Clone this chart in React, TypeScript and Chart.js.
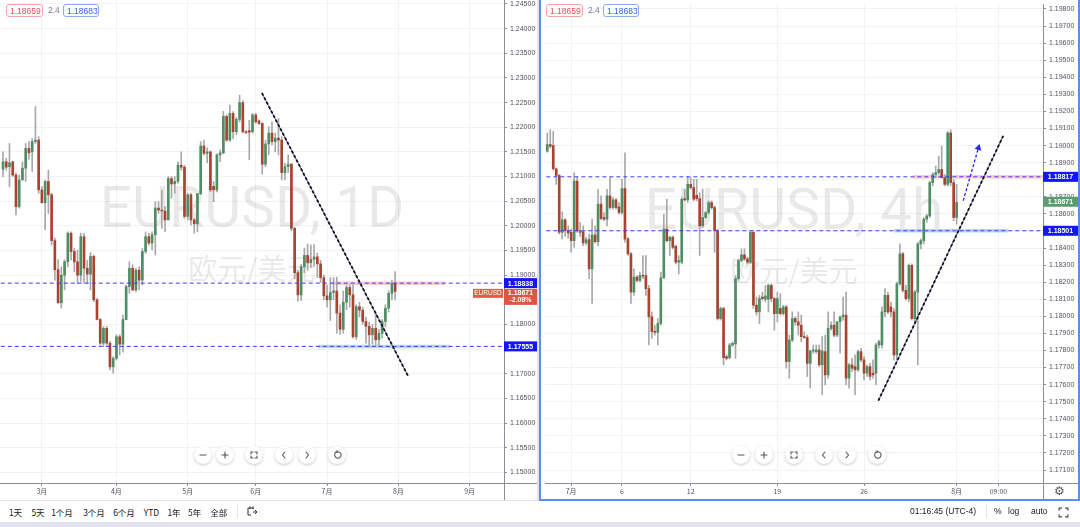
import React, { useEffect, useRef } from 'react';
import { Chart, registerables } from 'chart.js';

Chart.register(...registerables);

// ---------------- Daily EURUSD (left) ----------------
const D_OPEN = [
  1.2115, 1.2130, 1.2120, 1.2130, 1.2103, 1.2039, 1.2093, 1.2117, 1.2157, 1.2150,
  1.2171, 1.2174, 1.2073, 1.2047, 1.2090, 1.2063, 1.1970, 1.1911, 1.1844, 1.1900,
  1.1927, 1.1985, 1.1948, 1.1927, 1.1900, 1.1978, 1.1914, 1.1902, 1.1938, 1.1850,
  1.1810, 1.1762, 1.1792, 1.1762, 1.1714, 1.1731, 1.1775, 1.1760, 1.1810, 1.1877,
  1.1914, 1.1870, 1.1910, 1.1890, 1.1948, 1.1978, 1.1965, 1.1982, 1.2036, 1.2032,
  1.2030, 1.2012, 1.2096, 1.2085, 1.2090, 1.2123, 1.2119, 1.2019, 1.2063, 1.2012,
  1.2004, 1.2065, 1.2162, 1.2147, 1.2150, 1.2080, 1.2073, 1.2144, 1.2148, 1.2222,
  1.2174, 1.2228, 1.2191, 1.2216, 1.2250, 1.2191, 1.2193, 1.2191, 1.2225, 1.2213,
  1.2208, 1.2125, 1.2166, 1.2188, 1.2171, 1.2178, 1.2174, 1.2108, 1.2120, 1.2125,
  1.1995, 1.1905, 1.1860, 1.1917, 1.1940, 1.1925, 1.1932, 1.1937, 1.1923, 1.1895,
  1.1858, 1.1850, 1.1865, 1.1868, 1.1823, 1.1790, 1.1845, 1.1875, 1.1860, 1.1775,
  1.1836, 1.1829, 1.1806, 1.1796, 1.1779, 1.1792, 1.1769, 1.1782, 1.1806, 1.1833,
  1.1863, 1.1883,
];
const D_HIGH = [
  1.2150, 1.2137, 1.2167, 1.2131, 1.2107, 1.2103, 1.2130, 1.2167, 1.2171, 1.2177,
  1.2242, 1.2181, 1.2080, 1.2093, 1.2113, 1.2066, 1.1975, 1.1931, 1.1917, 1.1931,
  1.1988, 1.1988, 1.1954, 1.1951, 1.1985, 1.1985, 1.1930, 1.1946, 1.1941, 1.1853,
  1.1812, 1.1796, 1.1796, 1.1765, 1.1735, 1.1779, 1.1779, 1.1819, 1.1880, 1.1927,
  1.1921, 1.1914, 1.1917, 1.1954, 1.1988, 1.1985, 1.1988, 1.2049, 1.2049, 1.2073,
  1.2039, 1.2100, 1.2100, 1.2100, 1.2130, 1.2150, 1.2123, 1.2066, 1.2066, 1.2015,
  1.2066, 1.2171, 1.2174, 1.2158, 1.2152, 1.2090, 1.2146, 1.2154, 1.2232, 1.2225,
  1.2245, 1.2232, 1.2220, 1.2265, 1.2254, 1.2193, 1.2214, 1.2228, 1.2228, 1.2215,
  1.2209, 1.2174, 1.2201, 1.2211, 1.2188, 1.2218, 1.2181, 1.2127, 1.2144, 1.2127,
  1.1997, 1.1910, 1.1922, 1.1955, 1.1963, 1.1961, 1.1962, 1.1945, 1.1930, 1.1900,
  1.1880, 1.1895, 1.1895, 1.1896, 1.1840, 1.1868, 1.1880, 1.1880, 1.1880, 1.1840,
  1.1845, 1.1835, 1.1815, 1.1805, 1.1800, 1.1823, 1.1790, 1.1810, 1.1840, 1.1868,
  1.1890, 1.1907,
];
const D_LOW = [
  1.2100, 1.2113, 1.2079, 1.2100, 1.2022, 1.2036, 1.2093, 1.2090, 1.2135, 1.2110,
  1.2167, 1.2066, 1.2046, 1.1992, 1.2025, 1.1961, 1.1890, 1.1843, 1.1833, 1.1870,
  1.1917, 1.1931, 1.1907, 1.1883, 1.1887, 1.1883, 1.1883, 1.1870, 1.1846, 1.1809,
  1.1758, 1.1755, 1.1758, 1.1708, 1.1701, 1.1728, 1.1738, 1.1744, 1.1809, 1.1863,
  1.1868, 1.1866, 1.1870, 1.1880, 1.1944, 1.1961, 1.1951, 1.1941, 1.2025, 1.1995,
  1.1988, 1.2012, 1.2056, 1.2066, 1.2086, 1.2113, 1.2015, 1.2012, 1.2002, 1.1985,
  1.1988, 1.2063, 1.2144, 1.2128, 1.2069, 1.2049, 1.2069, 1.2130, 1.2146, 1.2171,
  1.2171, 1.2177, 1.2185, 1.2211, 1.2188, 1.2187, 1.2134, 1.2188, 1.2208, 1.2205,
  1.2105, 1.2120, 1.2144, 1.2164, 1.2150, 1.2144, 1.2093, 1.2093, 1.2108, 1.1990,
  1.1893, 1.1847, 1.1848, 1.1905, 1.1910, 1.1915, 1.1918, 1.1895, 1.1885, 1.1850,
  1.1835, 1.1808, 1.1850, 1.1782, 1.1780, 1.1782, 1.1830, 1.1835, 1.1772, 1.1770,
  1.1815, 1.1800, 1.1762, 1.1755, 1.1760, 1.1758, 1.1755, 1.1772, 1.1795, 1.1825,
  1.1850, 1.1850,
];
const D_CLOSE = [
  1.2130, 1.2119, 1.2128, 1.2103, 1.2039, 1.2093, 1.2117, 1.2157, 1.2148, 1.2171,
  1.2174, 1.2073, 1.2047, 1.2090, 1.2063, 1.1970, 1.1911, 1.1844, 1.1900, 1.1927,
  1.1985, 1.1948, 1.1927, 1.1900, 1.1978, 1.1914, 1.1902, 1.1938, 1.1850, 1.1810,
  1.1762, 1.1792, 1.1762, 1.1714, 1.1731, 1.1775, 1.1760, 1.1810, 1.1877, 1.1914,
  1.1870, 1.1910, 1.1890, 1.1948, 1.1978, 1.1965, 1.1982, 1.2036, 1.2032, 1.2030,
  1.2012, 1.2096, 1.2085, 1.2090, 1.2123, 1.2119, 1.2019, 1.2063, 1.2012, 1.2004,
  1.2065, 1.2162, 1.2147, 1.2150, 1.2073, 1.2073, 1.2144, 1.2148, 1.2222, 1.2174,
  1.2228, 1.2191, 1.2216, 1.2250, 1.2191, 1.2189, 1.2190, 1.2225, 1.2211, 1.2208,
  1.2125, 1.2166, 1.2188, 1.2171, 1.2178, 1.2174, 1.2108, 1.2120, 1.2125, 1.1995,
  1.1905, 1.1860, 1.1917, 1.1940, 1.1925, 1.1932, 1.1937, 1.1923, 1.1895, 1.1858,
  1.1850, 1.1865, 1.1868, 1.1823, 1.1790, 1.1845, 1.1875, 1.1860, 1.1775, 1.1836,
  1.1829, 1.1806, 1.1796, 1.1779, 1.1792, 1.1769, 1.1782, 1.1806, 1.1833, 1.1863,
  1.1883, 1.1867,
];
const D_TICK_IDX = [12, 35, 57, 78, 100, 122, 144];
const D_TICK_LABELS = ['3月', '4月', '5月', '6月', '7月', '8月', '9月'];
const D_RESIST = 1.18838;
const D_SUPPORT = 1.17555;
const D_TREND = [{ x: 79.9, y: 1.22695 }, { x: 125, y: 1.16954 }];
const D_RESIST_ZONE = [101.5, 136.4];
const D_SUPPORT_ZONE = [97.2, 138];

// ---------------- 4h EURUSD (right) ----------------
const H_OPEN = [
  1.18967, 1.19006, 1.19000, 1.18864, 1.18825, 1.18492, 1.18565, 1.18501, 1.18492, 1.18443,
  1.18792, 1.18501, 1.18495, 1.18430, 1.18449, 1.18278, 1.18476, 1.18437, 1.18657, 1.18579,
  1.18569, 1.18705, 1.18637, 1.18682, 1.18641, 1.18608, 1.18748, 1.18453, 1.18366, 1.18142,
  1.18230, 1.18210, 1.18239, 1.18239, 1.18162, 1.17997, 1.17910, 1.17906, 1.17958, 1.18226,
  1.18511, 1.18443, 1.18463, 1.18410, 1.18317, 1.18317, 1.18689, 1.18682, 1.18773, 1.18754,
  1.18709, 1.18689, 1.18530, 1.18579, 1.18608, 1.18666, 1.18637, 1.18501, 1.17987, 1.18046,
  1.17764, 1.17758, 1.17832, 1.17838, 1.18220, 1.18327, 1.18360, 1.18336, 1.18317, 1.18492,
  1.18065, 1.18026, 1.18113, 1.18100, 1.18100, 1.18181, 1.18104, 1.18016, 1.18046, 1.18016,
  1.18055, 1.17735, 1.17861, 1.17987, 1.17968, 1.17948, 1.17881, 1.17876, 1.17725, 1.17797,
  1.17793, 1.17803, 1.17716, 1.17793, 1.17657, 1.17929, 1.17948, 1.17890, 1.17968, 1.17997,
  1.18007, 1.17638, 1.17716, 1.17706, 1.17687, 1.17793, 1.17745, 1.17667, 1.17706, 1.17667,
  1.17667, 1.17832, 1.17832, 1.18026, 1.18123, 1.18055, 1.18026, 1.17774, 1.18191, 1.18366,
  1.18152, 1.18104, 1.18298, 1.17987, 1.18142, 1.18424, 1.18443, 1.18569, 1.18588, 1.18783,
  1.18831, 1.18841, 1.18860, 1.18812, 1.18773, 1.19074, 1.18783, 1.18579,
];
const H_HIGH = [
  1.19074, 1.19093, 1.19083, 1.18870, 1.18831, 1.18612, 1.18573, 1.18530, 1.18511, 1.18841,
  1.18817, 1.18550, 1.18530, 1.18463, 1.18482, 1.18569, 1.18530, 1.18744, 1.18705, 1.18608,
  1.18744, 1.18812, 1.18695, 1.18689, 1.18666, 1.18802, 1.18957, 1.18463, 1.18375, 1.18278,
  1.18239, 1.18259, 1.18356, 1.18356, 1.18181, 1.18026, 1.17948, 1.17987, 1.18259, 1.18598,
  1.18686, 1.18470, 1.18470, 1.18418, 1.18356, 1.18695, 1.18744, 1.18821, 1.18812, 1.18802,
  1.18802, 1.18724, 1.18744, 1.18612, 1.18676, 1.18676, 1.18647, 1.18511, 1.18055, 1.18055,
  1.17774, 1.17842, 1.17851, 1.18239, 1.18336, 1.18395, 1.18395, 1.18346, 1.18501, 1.18501,
  1.18113, 1.18123, 1.18142, 1.18181, 1.18191, 1.18191, 1.18113, 1.18142, 1.18133, 1.18065,
  1.18065, 1.17890, 1.18026, 1.17997, 1.18026, 1.18007, 1.17910, 1.17890, 1.17803, 1.17832,
  1.17832, 1.17832, 1.17881, 1.17890, 1.18026, 1.17968, 1.18026, 1.17968, 1.18000, 1.18113,
  1.18142, 1.17725, 1.17754, 1.17774, 1.17803, 1.17813, 1.17764, 1.17716, 1.17725, 1.17745,
  1.17842, 1.17861, 1.18055, 1.18162, 1.18142, 1.18084, 1.18046, 1.18201, 1.18424, 1.18375,
  1.18181, 1.18307, 1.18307, 1.18152, 1.18434, 1.18453, 1.18579, 1.18598, 1.18792, 1.18841,
  1.18880, 1.18938, 1.18996, 1.18831, 1.19083, 1.19093, 1.18802, 1.18773,
];
const H_LOW = [
  1.18961, 1.18986, 1.18856, 1.18773, 1.18482, 1.18453, 1.18468, 1.18457, 1.18375, 1.18404,
  1.18492, 1.18468, 1.18414, 1.18418, 1.18220, 1.18075, 1.18430, 1.18414, 1.18565, 1.18560,
  1.18530, 1.18627, 1.18627, 1.18627, 1.18598, 1.18598, 1.18434, 1.18356, 1.18075, 1.18123,
  1.18201, 1.18201, 1.18220, 1.18123, 1.17832, 1.17871, 1.17890, 1.17832, 1.17948, 1.18220,
  1.18434, 1.18356, 1.18395, 1.18307, 1.18249, 1.18307, 1.18676, 1.18666, 1.18744, 1.18676,
  1.18676, 1.18356, 1.18521, 1.18573, 1.18598, 1.18627, 1.18375, 1.17978, 1.17978, 1.17716,
  1.17745, 1.17751, 1.17823, 1.17754, 1.18210, 1.18317, 1.18327, 1.18307, 1.18307, 1.18046,
  1.18007, 1.17958, 1.18094, 1.18084, 1.18026, 1.18084, 1.17919, 1.17968, 1.18007, 1.18007,
  1.17696, 1.17638, 1.17851, 1.17948, 1.17890, 1.17851, 1.17871, 1.17648, 1.17580, 1.17784,
  1.17784, 1.17706, 1.17541, 1.17599, 1.17638, 1.17919, 1.17881, 1.17881, 1.17784, 1.17978,
  1.17599, 1.17580, 1.17677, 1.17541, 1.17677, 1.17735, 1.17628, 1.17648, 1.17628, 1.17638,
  1.17599, 1.17813, 1.17813, 1.17997, 1.18016, 1.17997, 1.17745, 1.17745, 1.18181, 1.18142,
  1.18094, 1.18084, 1.17978, 1.17958, 1.17716, 1.18395, 1.18424, 1.18550, 1.18579, 1.18764,
  1.18812, 1.18831, 1.18812, 1.18764, 1.18764, 1.18764, 1.18560, 1.18540,
];
const H_CLOSE = [
  1.19006, 1.18996, 1.18864, 1.18825, 1.18492, 1.18565, 1.18501, 1.18488, 1.18443, 1.18792,
  1.18501, 1.18492, 1.18430, 1.18449, 1.18278, 1.18476, 1.18437, 1.18657, 1.18573, 1.18569,
  1.18705, 1.18637, 1.18682, 1.18637, 1.18608, 1.18748, 1.18453, 1.18366, 1.18142, 1.18230,
  1.18210, 1.18239, 1.18235, 1.18162, 1.17997, 1.17910, 1.17906, 1.17958, 1.18226, 1.18511,
  1.18443, 1.18463, 1.18404, 1.18317, 1.18327, 1.18686, 1.18682, 1.18773, 1.18754, 1.18686,
  1.18689, 1.18530, 1.18579, 1.18608, 1.18666, 1.18637, 1.18501, 1.17987, 1.18046, 1.17758,
  1.17754, 1.17832, 1.17842, 1.18220, 1.18327, 1.18360, 1.18336, 1.18317, 1.18492, 1.18065,
  1.18026, 1.18104, 1.18104, 1.18119, 1.18181, 1.18104, 1.18016, 1.18104, 1.18016, 1.18055,
  1.17735, 1.17861, 1.17987, 1.17968, 1.17948, 1.17881, 1.17876, 1.17725, 1.17797, 1.17803,
  1.17803, 1.17716, 1.17797, 1.17657, 1.17929, 1.17948, 1.17890, 1.17968, 1.17997, 1.18007,
  1.17638, 1.17716, 1.17696, 1.17687, 1.17793, 1.17745, 1.17667, 1.17706, 1.17648, 1.17657,
  1.17832, 1.17851, 1.18026, 1.18123, 1.18026, 1.18026, 1.17774, 1.18191, 1.18366, 1.18152,
  1.18104, 1.18298, 1.17987, 1.18142, 1.18424, 1.18443, 1.18569, 1.18588, 1.18783, 1.18831,
  1.18841, 1.18860, 1.18812, 1.18773, 1.19074, 1.18783, 1.18579, 1.18667,
];
const H_TICK_IDX = [8, 25, 48, 77, 106, 137, 151];
const H_TICK_LABELS = ['7月', '6', '12', '19', '26', '8月', '09:00'];
const H_RESIST = 1.18817;
const H_SUPPORT = 1.18501;
const H_TREND = [{ x: 110.8, y: 1.17506 }, { x: 152.6, y: 1.19057 }];
const H_ARROW = [{ x: 139.2, y: 1.18677 }, { x: 144.3, y: 1.18987 }];
const H_RESIST_ZONE = [122.4, 170];
const H_SUPPORT_ZONE = [116.1, 154.3];

const LAST_PRICE = 1.18671;
const CHANGE_PCT = '-2.08%';
const BID = '1.18659';
const SPREAD = '2.4';
const ASK = '1.18683';

// ---------------- styles ----------------
const UP = '#4f8d62';
const DOWN = '#a8432f';
const WICK = '#a8a8a8';
const GRID = '#f0f2f7';
const AXIS_LINE = '#8d9099';
const AXIS_TEXT = '#50535e';
const LEVEL_BLUE = '#3a3aff';
const BOX_BLUE = '#1414ff';
const AX_FONT = "'Liberation Sans', Arial, sans-serif";
const CJK_FONT = "'Noto Sans CJK SC', 'Noto Sans', sans-serif";

function candleSets(o: number[], h: number[], l: number[], c: number[]) {
  const col = o.map((v, i) => (c[i] >= v ? UP : DOWN));
  return [
    {
      type: 'bar', data: o.map((v, i) => ({ x: i, y: [v, c[i]] })),
      backgroundColor: col, borderWidth: 0, barThickness: 2, grouped: false, minBarLength: 1, order: 5,
    },
    {
      type: 'bar', data: l.map((v, i) => ({ x: i, y: [v, h[i]] })),
      backgroundColor: WICK, borderWidth: 0, barThickness: 1, grouped: false, order: 6,
    },
  ];
}

function seg(pts: { x: number; y: number }[], color: string, width: number, dash: number[], order: number, extra: any = {}) {
  return {
    type: 'line', data: pts, borderColor: color, borderWidth: width, borderDash: dash,
    pointRadius: 0, pointHoverRadius: 0, fill: false, tension: 0, order, ...extra,
  };
}

function xScale(min: number, max: number, idx: number[], labels: string[]) {
  return {
    type: 'linear', min, max, offset: false,
    afterBuildTicks: (s: any) => { s.ticks = idx.map((v) => ({ value: v })); },
    ticks: {
      autoSkip: false, maxRotation: 0, minRotation: 0, padding: 1, color: AXIS_TEXT,
      font: { size: 7, family: CJK_FONT }, callback: (_v: any, i: number) => labels[i],
    },
    grid: { color: GRID, offset: false, drawTicks: true, tickLength: 3, tickColor: AXIS_LINE },
    border: { display: true, color: AXIS_LINE },
    afterFit: (s: any) => { s.height = 16; s.paddingLeft = 0; s.paddingRight = 0; },
  };
}

function yScale(min: number, max: number, step: number, width: number) {
  return {
    type: 'linear', position: 'right', min, max,
    ticks: {
      stepSize: step, includeBounds: false, autoSkip: false, padding: 3, color: AXIS_TEXT,
      font: { size: 7, family: AX_FONT }, callback: (v: any) => Number(v).toFixed(5),
    },
    grid: { color: GRID, tickLength: 3, tickColor: AXIS_LINE },
    border: { display: true, color: AXIS_LINE },
    afterFit: (s: any) => { s.width = width; s.paddingTop = 0; s.paddingBottom = 0; },
  };
}

type Box = { value: number; lines: string[]; bg: string; tag?: string };

function overlayPlugin(wm1: string, wm2: string, boxes: Box[]) {
  return {
    id: 'overlay',
    beforeDatasetsDraw(chart: any) {
      const { ctx, chartArea } = chart;
      const cx = (chartArea.left + chartArea.right) / 2;
      const cy = (chartArea.top + chartArea.bottom) / 2;
      ctx.save();
      ctx.fillStyle = 'rgba(0,0,0,0.085)';
      ctx.textAlign = 'center';
      ctx.textBaseline = 'alphabetic';
      ctx.font = `57px Roboto, ${AX_FONT}`;
      ctx.fillText(wm1, cx, cy - 15);
      ctx.font = `29px ${CJK_FONT}`;
      ctx.fillText(wm2, cx, cy + 38);
      ctx.restore();
    },
    afterDraw(chart: any) {
      const { ctx, chartArea } = chart;
      const ys = chart.scales.y;
      const left = ys.left;
      const right = chart.width;
      ctx.save();
      boxes.forEach((b) => {
        const y = ys.getPixelForValue(b.value);
        const two = b.lines.length > 1;
        const h = two ? 16 : 10;
        const top = two ? y - 2.5 : y - 5;
        ctx.fillStyle = b.bg;
        ctx.fillRect(left, top, right - left, h);
        ctx.fillStyle = '#ffffff';
        ctx.font = `bold 7px ${AX_FONT}`;
        ctx.textAlign = 'center';
        ctx.textBaseline = 'middle';
        const cx = (left + right) / 2;
        if (two) {
          ctx.fillText(b.lines[0], cx, top + 4.5);
          ctx.fillText(b.lines[1], cx, top + 11.5);
        } else {
          ctx.fillText(b.lines[0], cx, y + 0.5);
        }
        if (b.tag) {
          ctx.fillStyle = '#e25d48';
          ctx.fillRect(chartArea.right - 31, top, 30, 9);
          ctx.fillStyle = '#ffffff';
          ctx.font = `6.5px ${AX_FONT}`;
          ctx.fillText(b.tag, chartArea.right - 16, top + 4.8);
        }
      });
      ctx.restore();
    },
  };
}

function leftConfig(): any {
  return {
    type: 'bar',
    data: {
      datasets: [
        seg(D_TREND, '#5a5ab4', 1, [], 1),
        seg(D_TREND, '#111111', 1.8, [3, 2], 0),
        seg([{ x: D_RESIST_ZONE[0], y: D_RESIST }, { x: D_RESIST_ZONE[1], y: D_RESIST }], 'rgba(242,80,90,0.3)', 3.5, [], 8),
        seg([{ x: D_SUPPORT_ZONE[0], y: D_SUPPORT }, { x: D_SUPPORT_ZONE[1], y: D_SUPPORT }], 'rgba(60,130,230,0.35)', 3.5, [], 8),
        seg([{ x: -5, y: D_RESIST }, { x: 200, y: D_RESIST }], LEVEL_BLUE, 1, [4, 3], 2),
        seg([{ x: -5, y: D_SUPPORT }, { x: 200, y: D_SUPPORT }], LEVEL_BLUE, 1, [4, 3], 2),
        ...candleSets(D_OPEN, D_HIGH, D_LOW, D_CLOSE),
      ],
    },
    options: {
      animation: false, responsive: false, maintainAspectRatio: false, events: [],
      layout: { padding: 0 },
      plugins: { legend: { display: false }, tooltip: { enabled: false } },
      scales: {
        x: xScale(-0.93, 154.6, D_TICK_IDX, D_TICK_LABELS),
        y: yScale(1.14784, 1.24581, 0.005, 33),
      },
    },
    plugins: [
      overlayPlugin('EURUSD, 1D', '欧元/美元', [
        { value: D_RESIST, lines: [D_RESIST.toFixed(5)], bg: BOX_BLUE },
        { value: LAST_PRICE, lines: [LAST_PRICE.toFixed(5), CHANGE_PCT], bg: '#e0553f', tag: 'EURUSD' },
        { value: D_SUPPORT, lines: [D_SUPPORT.toFixed(5)], bg: BOX_BLUE },
      ]),
    ],
  };
}

function rightConfig(): any {
  return {
    type: 'bar',
    data: {
      datasets: [
        seg(H_TREND, '#5a5ab4', 1, [], 1),
        seg(H_TREND, '#111111', 1.8, [3, 2], 0),
        seg(H_ARROW, '#2525ff', 1.3, [3, 2], 0, {
          pointRadius: [0, 4], pointStyle: 'triangle', pointRotation: [0, 17],
          pointBackgroundColor: '#2525ff', pointBorderWidth: 0,
        }),
        seg([{ x: H_RESIST_ZONE[0], y: H_RESIST }, { x: H_RESIST_ZONE[1], y: H_RESIST }], 'rgba(242,80,90,0.3)', 3.5, [], 8),
        seg([{ x: H_SUPPORT_ZONE[0], y: H_SUPPORT }, { x: H_SUPPORT_ZONE[1], y: H_SUPPORT }], 'rgba(60,130,230,0.35)', 3.5, [], 8),
        seg([{ x: -5, y: H_RESIST }, { x: 200, y: H_RESIST }], LEVEL_BLUE, 1, [4, 3], 2),
        seg([{ x: -5, y: H_SUPPORT }, { x: 200, y: H_SUPPORT }], LEVEL_BLUE, 1, [4, 3], 2),
        ...candleSets(H_OPEN, H_HIGH, H_LOW, H_CLOSE),
      ],
    },
    options: {
      animation: false, responsive: false, maintainAspectRatio: false, events: [],
      layout: { padding: 0 },
      plugins: { legend: { display: false }, tooltip: { enabled: false } },
      scales: {
        x: xScale(-0.76, 165.9, H_TICK_IDX, H_TICK_LABELS),
        y: yScale(1.17024, 1.19829, 0.001, 35),
      },
    },
    plugins: [
      overlayPlugin('EURUSD, 4h', '欧元/美元', [
        { value: H_RESIST, lines: [H_RESIST.toFixed(5)], bg: BOX_BLUE },
        { value: LAST_PRICE, lines: [LAST_PRICE.toFixed(5)], bg: '#5a9c70' },
        { value: H_SUPPORT, lines: [H_SUPPORT.toFixed(5)], bg: BOX_BLUE },
      ]),
    ],
  };
}

function QuoteBoxes({ left }: { left: number }) {
  const base: React.CSSProperties = {
    position: 'absolute', top: 4, height: 13, lineHeight: '13px', fontSize: 8.5,
    fontFamily: AX_FONT, borderRadius: 3, padding: '0 3px', boxSizing: 'border-box', background: '#fff',
  };
  return (
    <>
      <div style={{ ...base, left, border: '1px solid #f5a3a6', color: '#ef4f57', width: 37 }}>{BID}</div>
      <div style={{ ...base, left: left + 42, color: '#787b86', padding: 0 }}>{SPREAD}</div>
      <div style={{ ...base, left: left + 57, border: '1px solid #8eaaf4', color: '#2f62f0', width: 36 }}>{ASK}</div>
    </>
  );
}

function Icon({ kind }: { kind: string }) {
  const s = { stroke: '#555', strokeWidth: 1.1, fill: 'none', strokeLinecap: 'round' as const };
  let body: React.ReactNode = null;
  if (kind === 'minus') body = <path d="M2 5 H8" {...s} />;
  if (kind === 'plus') body = <path d="M2 5 H8 M5 2 V8" {...s} />;
  if (kind === 'full') body = <path d="M2 4 V2 H4 M6 2 H8 V4 M8 6 V8 H6 M4 8 H2 V6" {...s} />;
  if (kind === 'left') body = <path d="M6 2 L3.5 5 L6 8" {...s} />;
  if (kind === 'right') body = <path d="M4 2 L6.5 5 L4 8" {...s} />;
  if (kind === 'reset') body = <path d="M3 3.6 A3.2 3.2 0 1 0 5 1.9 M5 0.6 L5 2.4 L3.2 2.4" {...s} />;
  return <svg width={10} height={10} viewBox="0 0 10 10">{body}</svg>;
}

function NavButtons({ xs }: { xs: number[] }) {
  const kinds = ['minus', 'plus', 'full', 'left', 'right', 'reset'];
  return (
    <>
      {xs.map((x, i) => (
        <div key={i} style={{
          position: 'absolute', left: x - 9, top: 446, width: 18, height: 18, borderRadius: 9,
          background: '#fff', boxShadow: '0 1px 3px rgba(0,0,0,0.22)', display: 'flex',
          alignItems: 'center', justifyContent: 'center',
        }}>
          <Icon kind={kinds[i]} />
        </div>
      ))}
    </>
  );
}

const RANGES: [string, number][] = [
  ['1天', 15.5], ['5天', 38], ['1个月', 62], ['3个月', 94], ['6个月', 124],
  ['YTD', 151.5], ['1年', 174], ['5年', 194.6], ['全部', 218.7],
];

export default function App() {
  const leftRef = useRef<HTMLCanvasElement>(null);
  const rightRef = useRef<HTMLCanvasElement>(null);

  useEffect(() => {
    const c1 = new Chart(leftRef.current as HTMLCanvasElement, leftConfig());
    const c2 = new Chart(rightRef.current as HTMLCanvasElement, rightConfig());
    return () => { c1.destroy(); c2.destroy(); };
  }, []);

  const txt: React.CSSProperties = { position: 'absolute', fontSize: 8.5, color: '#131722', fontFamily: CJK_FONT, whiteSpace: 'nowrap' };

  return (
    <div style={{ position: 'fixed', left: 0, top: 0, width: 1080, height: 527, background: '#e0e3eb', overflow: 'hidden' }}>
      <div style={{ position: 'absolute', left: 0, top: 0, width: 537, height: 500, background: '#fff' }} />
      <canvas ref={leftRef} width={537} height={499} style={{ position: 'absolute', left: 0, top: 0, width: 537, height: 499 }} />
      <div style={{ position: 'absolute', left: 504, top: 483, width: 1, height: 17, background: AXIS_LINE }} />
      <div style={{ position: 'absolute', left: 504, top: 483, width: 33, height: 1, background: AXIS_LINE }} />

      <div style={{
        position: 'absolute', left: 539, top: -2, width: 541, height: 503, background: '#fff',
        border: '2px solid #5b8def', boxSizing: 'border-box',
      }} />
      <canvas ref={rightRef} width={537} height={499} style={{ position: 'absolute', left: 541, top: 0, width: 537, height: 499 }} />
      <div style={{ position: 'absolute', left: 1043, top: 483, width: 1, height: 16, background: AXIS_LINE }} />
      <div style={{ position: 'absolute', left: 1043, top: 483, width: 35, height: 1, background: AXIS_LINE }} />
      <div style={{ position: 'absolute', left: 1054, top: 484, fontSize: 12, color: '#555', fontFamily: "'DejaVu Sans', sans-serif" }}>⚙</div>

      <QuoteBoxes left={6} />
      <QuoteBoxes left={546} />

      <NavButtons xs={[203, 225, 254, 284, 307, 337]} />
      <NavButtons xs={[741, 764, 794, 824, 847, 877]} />

      <div style={{ position: 'absolute', left: 0, top: 501, width: 1080, height: 21, background: '#fff' }} />
      {RANGES.map(([t, x]) => (
        <div key={t} style={{ ...txt, left: x, top: 506, transform: 'translateX(-50%)' }}>{t}</div>
      ))}
      <div style={{ position: 'absolute', left: 237, top: 505, width: 1, height: 13, background: '#e0e3eb' }} />
      <svg style={{ position: 'absolute', left: 247, top: 506 }} width={11} height={11} viewBox="0 0 11 11">
        <path d="M1 2 H7 M1 2 V9 H4 M3 0.5 V3 M6 0.5 V3 M6 6 H10 M8 4 L10 6 L8 8" stroke="#333" strokeWidth={1} fill="none" />
      </svg>
      <div style={{ ...txt, left: 910, top: 506, fontFamily: AX_FONT }}>01:16:45 (UTC-4)</div>
      <div style={{ position: 'absolute', left: 986, top: 505, width: 1, height: 13, background: '#e0e3eb' }} />
      <div style={{ ...txt, left: 994, top: 506, fontFamily: AX_FONT }}>%</div>
      <div style={{ ...txt, left: 1008, top: 506, fontFamily: AX_FONT }}>log</div>
      <div style={{ ...txt, left: 1031, top: 506, fontFamily: AX_FONT }}>auto</div>
      <svg style={{ position: 'absolute', left: 1058, top: 507 }} width={11} height={11} viewBox="0 0 10 10">
        <path d="M1 3.5 V1 H3.5 M6.5 1 H9 V3.5 M9 6.5 V9 H6.5 M3.5 9 H1 V6.5" stroke="#444" strokeWidth={1} fill="none" />
      </svg>
    </div>
  );
}
